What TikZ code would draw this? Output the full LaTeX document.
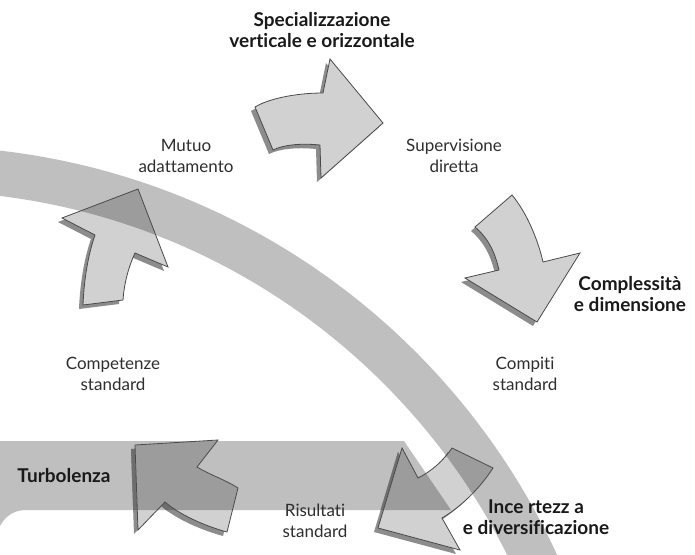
\documentclass[tikz,border=0pt]{standalone}
\usepackage{fontspec}
\setmainfont{Lato}[Ligatures={NoCommon,NoRare}]
\definecolor{bandc}{HTML}{BFBFBF}
\definecolor{arrc}{HTML}{D1D1D1}
\definecolor{arrband}{HTML}{9C9C9C}
\definecolor{shc}{HTML}{8C8C8C}
\definecolor{shband}{HTML}{6E6E6E}
\definecolor{linec}{HTML}{4A4A4A}
\definecolor{txt}{HTML}{2E2E2E}
\tikzset{
  lbl/.style={font=\fontsize{17}{21}\selectfont, text=txt, align=center, inner sep=0pt},
  blbl/.style={font=\fontsize{19}{20.5}\selectfont\bfseries, text=black!90, align=center, inner sep=0pt},
  arrline/.style={draw=linec, line width=0.8pt, line join=miter},
}
\def\ringpath{(-81,848) circle (702pt) (-81,848) circle (657pt)}
\def\hbandpath{(0,441) -- (404,441) -- (451,510) -- (24,510) .. controls (12,511) and (5,517) .. (0,526) -- cycle}
\def\arrT{(255,107) .. controls (268,99) and (295,93) .. (323,93) -- (330,59) -- (383,123) -- (321,178) -- (320,145) .. controls (300,143) and (283,145) .. (273,150) -- cycle}
\def\arrR{(475,227) -- (512,195) .. controls (527,213) and (538,240) .. (543,262) -- (580,253) -- (537,322) -- (465,278) -- (499,270) .. controls (495,252) and (488,238) .. (475,227) -- cycle}
\def\arrBR{(402,448) -- (418,478) .. controls (432,471) and (444,460) .. (452,448) -- (493,468) .. controls (480,488) and (462,506) .. (442,518) -- (460,550) -- (378,528) -- cycle}
\def\arrBL{(135,445) -- (218,440) -- (197,467) .. controls (210,475) and (226,480) .. (238,488) -- (227,532) .. controls (205,526) and (180,515) .. (165,502) -- (138,530) -- cycle}
\def\arrL{(83,305) -- (123,300) .. controls (124,285) and (128,268) .. (135,253) -- (168,267) -- (138,189) -- (62,218) -- (95,235) .. controls (88,255) and (84,280) .. (83,305) -- cycle}
\newcommand\paintbands[1]{%
  \fill[#1, even odd rule] \ringpath;
  \fill[#1] \hbandpath;
}
\newcommand\blockarrow[1]{%
  \fill[shc, shift={(-4,4)}] #1;
  \begin{scope}
    \clip[shift={(-4,4)}] #1;
    \paintbands{shband}
  \end{scope}
  \fill[arrc] #1;
  \begin{scope}
    \clip #1;
    \paintbands{arrband}
  \end{scope}
  \draw[arrline] #1;
}
\begin{document}
\begin{tikzpicture}[x=1pt,y=-1pt]
\useasboundingbox (0,0) rectangle (695,554);
\clip (0,0) rectangle (695,554);
\fill[white] (0,0) rectangle (695,554);
\paintbands{bandc}
\blockarrow{\arrT}
\blockarrow{\arrR}
\blockarrow{\arrBR}
\blockarrow{\arrBL}
\blockarrow{\arrL}
\node[blbl] (spec) at (322,30) {Specializzazione\\verticale e orizzontale};
\node[lbl] (mutuo) at (186,156) {Mutuo\\adattamento};
\node[lbl] (superv) at (454,156) {Supervisione\\diretta};
\node[blbl] (compl) at (630,294) {Complessità\\e dimensione};
\node[lbl] (compiti) at (525,374) {Compiti\\standard};
\node[lbl] (compet) at (113,374) {Competenze\\standard};
\node[blbl] (turb) at (64,476) {Turbolenza};
\node[lbl] (risult) at (315,521) {Risultati\\standard};
\node[blbl] (incert) at (536,517) {Ince rtezz a\\e diversificazione};
\end{tikzpicture}
\end{document}
